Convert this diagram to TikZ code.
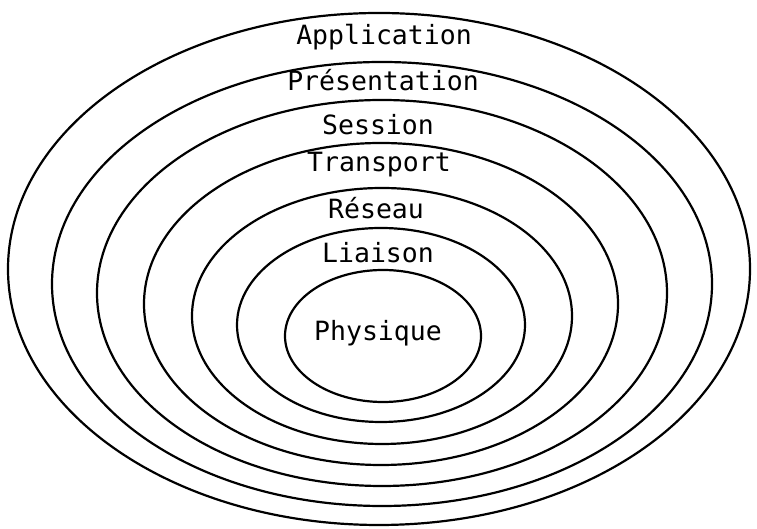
\documentclass[tikz,border=0pt]{standalone}
\usepackage{fontspec}
\setmonofont{DejaVu Sans Mono}
\usetikzlibrary{shapes.geometric}
\tikzset{
  ring/.style={draw=black, line width=2.2pt, ellipse, inner sep=0pt},
  lbl/.style={font=\ttfamily\fontsize{26.5}{26.5}\selectfont, inner sep=0pt, anchor=center}
}
\begin{document}
\begin{tikzpicture}[x=1pt,y=1pt]
\useasboundingbox (0,0) rectangle (757,529);
\node[ring, minimum width=742pt, minimum height=512pt] (e1) at (379,260) {};
\node[ring, minimum width=660pt, minimum height=444pt] (e2) at (382,245) {};
\node[ring, minimum width=570pt, minimum height=386pt] (e3) at (382,236) {};
\node[ring, minimum width=474pt, minimum height=322pt] (e4) at (381,225) {};
\node[ring, minimum width=380pt, minimum height=256pt] (e5) at (382,213) {};
\node[ring, minimum width=288pt, minimum height=194pt] (e6) at (381,204) {};
\node[ring, minimum width=196pt, minimum height=132pt] (e7) at (383,193) {};
\node[lbl] (t1) at (384,492) {Application};
\node[lbl] (t2) at (383,449) {Présentation};
\node[lbl] (t3) at (378,404) {Session};
\node[lbl] (t4) at (379,364) {Transport};
\node[lbl] (t5) at (376,321) {Réseau};
\node[lbl] (t6) at (378,276) {Liaison};
\node[lbl] (t7) at (378,196) {Physique};
\end{tikzpicture}
\end{document}
